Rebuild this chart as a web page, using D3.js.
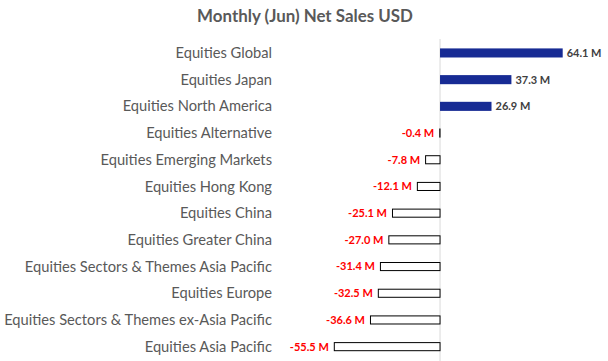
<!DOCTYPE html>
<html><head><meta charset="utf-8">
<script src="https://cdn.jsdelivr.net/npm/d3@7"></script>
<style>body{margin:0;background:#fff}svg{display:block}</style>
</head><body>
<script>
const categories = ["Equities Global","Equities Japan","Equities North America","Equities Alternative","Equities Emerging Markets","Equities Hong Kong","Equities China","Equities Greater China","Equities Sectors & Themes Asia Pacific","Equities Europe","Equities Sectors & Themes ex-Asia Pacific","Equities Asia Pacific"];
const values = [64.1,37.3,26.9,-0.4,-7.8,-12.1,-25.1,-27.0,-31.4,-32.5,-36.6,-55.5];
const title = "Monthly (Jun) Net Sales USD";

const W=608,H=361;
const svg=d3.select("body").append("svg").attr("width",W).attr("height",H);
const font="Lato, 'Open Sans', sans-serif";
const x=d3.scaleLinear().domain([-55.5,64.1]).range([333.8,562.7]);
const y=d3.scaleBand().domain(categories).range([39.6,360]).paddingInner(0.66).paddingOuter(0.33);

svg.append("text").attr("x",305).attr("y",22).attr("text-anchor","middle")
  .attr("font-family",font).attr("font-weight","bold").attr("font-size",16.9).attr("fill","#595959").text(title);

svg.append("line").attr("x1",x(0)).attr("x2",x(0)).attr("y1",39).attr("y2",H).attr("stroke","#d9d9d9").attr("stroke-width",1);

const data=categories.map((c,i)=>({c,v:values[i]}));
svg.selectAll("rect.bar").data(data).join("rect")
  .attr("x",d=>d.v>=0?x(0):x(d.v)+0.5)
  .attr("y",d=>y(d.c)+ (d.v>=0?0:0.5))
  .attr("width",d=>d.v>=0?x(d.v)-x(0):x(0)-x(d.v)-0.5)
  .attr("height",d=>d.v>=0?y.bandwidth():y.bandwidth()-1)
  .attr("fill",d=>d.v>=0?"#172b94":"#fff")
  .attr("stroke",d=>d.v>=0?"none":"#000").attr("stroke-width",1);

svg.selectAll("text.cat").data(data).join("text")
  .attr("x",272).attr("y",d=>y(d.c)+y.bandwidth()/2).attr("dy","0.35em")
  .attr("text-anchor","end").attr("font-family",font).attr("font-size",14.7).attr("fill","#595959").text(d=>d.c);

svg.selectAll("text.val").data(data).join("text")
  .attr("x",d=>d.v>=0?x(d.v)+4:x(d.v)-5)
  .attr("y",d=>y(d.c)+y.bandwidth()/2).attr("dy","0.35em")
  .attr("text-anchor",d=>d.v>=0?"start":"end")
  .attr("font-family",font).attr("font-weight","bold").attr("font-size",11)
  .attr("fill",d=>d.v>=0?"#404040":"#ff0000")
  .text(d=>d.v.toFixed(1)+" M");
</script>
</body></html>
